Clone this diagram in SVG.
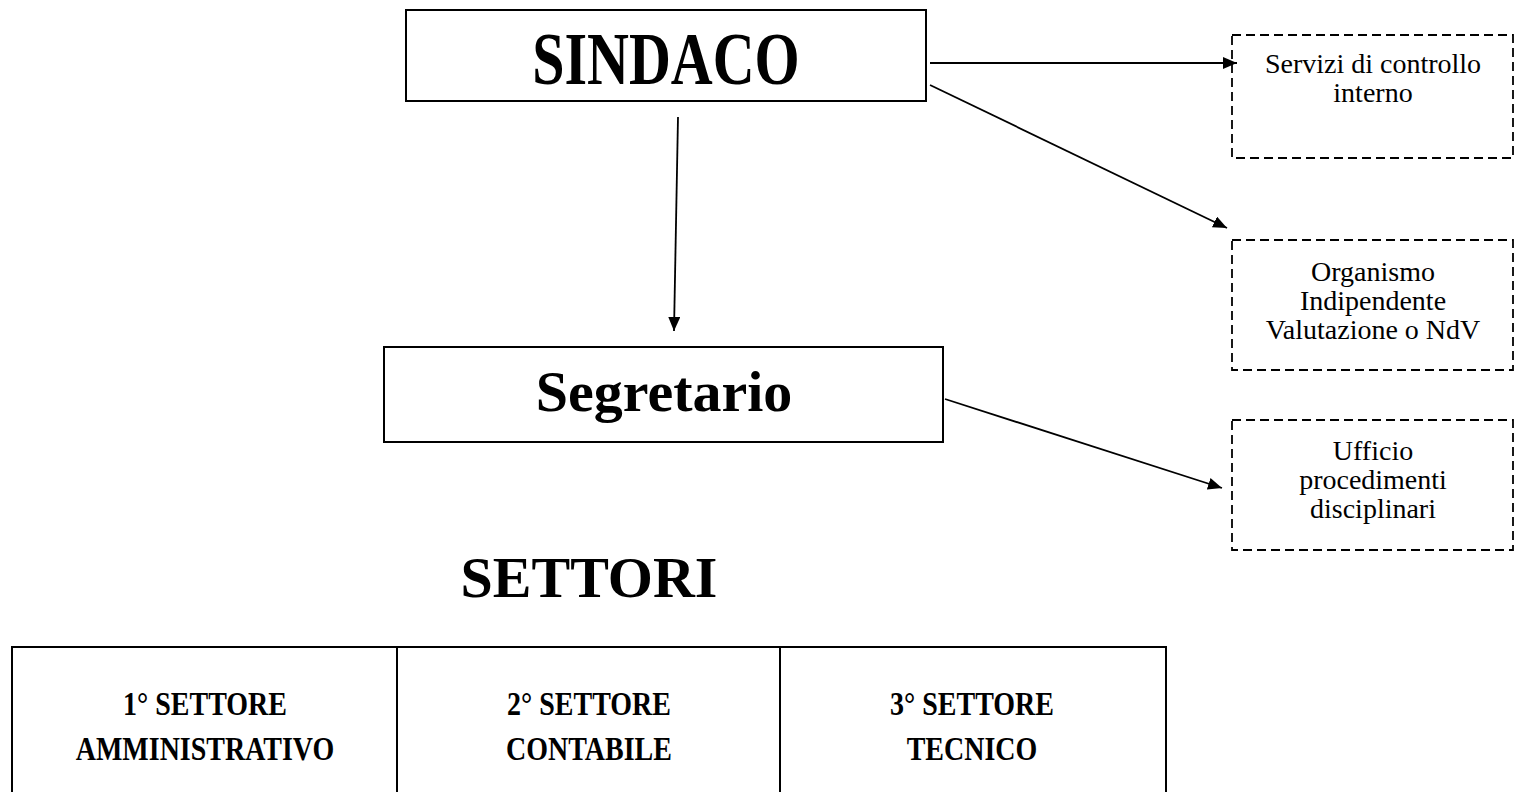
<svg xmlns="http://www.w3.org/2000/svg" width="1517" height="792" viewBox="0 0 1517 792">
<style>
.box{fill:#fff;stroke:#000;stroke-width:2}
.dash{fill:#fff;stroke:#000;stroke-width:1.8;stroke-dasharray:9 5}
.big{font-family:"Liberation Serif","Times New Roman",serif;font-weight:bold;font-size:58px;text-anchor:middle;fill:#000}
.small{font-family:"Liberation Serif","Times New Roman",serif;font-size:28px;text-anchor:middle;fill:#000}
.cell{font-family:"Liberation Serif","Times New Roman",serif;font-weight:bold;font-size:28px;text-anchor:middle;fill:#000}
.conn{stroke:#000;stroke-width:1.8;fill:none;marker-end:url(#ah)}
</style>
<defs>
<marker id="ah" viewBox="0 0 14 12" refX="14" refY="6" markerWidth="14" markerHeight="12" markerUnits="userSpaceOnUse" orient="auto">
<path d="M0,0 L14,6 L0,12 z" fill="#000"/>
</marker>
</defs>
<rect width="1517" height="792" fill="#fff"/>
<g id="sindaco">
<rect class="box" x="406" y="10" width="520" height="91"/>
<text class="big" transform="translate(666,84) scale(1,1.28)">SINDACO</text>
</g>
<g id="segretario">
<rect class="box" x="384" y="347" width="559" height="95"/>
<text class="big" x="664" y="411">Segretario</text>
</g>
<g id="servizi">
<rect class="dash" x="1232" y="35" width="281" height="123"/>
<text class="small" x="1373" y="73">Servizi di controllo</text>
<text class="small" x="1373" y="102">interno</text>
</g>
<g id="organismo">
<rect class="dash" x="1232" y="240" width="281" height="130"/>
<text class="small" x="1373" y="281">Organismo</text>
<text class="small" x="1373" y="310">Indipendente</text>
<text class="small" x="1373" y="339">Valutazione o NdV</text>
</g>
<g id="ufficio">
<rect class="dash" x="1232" y="420" width="281" height="130"/>
<text class="small" x="1373" y="460">Ufficio</text>
<text class="small" x="1373" y="489">procedimenti</text>
<text class="small" x="1373" y="518">disciplinari</text>
</g>
<g id="settori">
<text class="big" x="589" y="597">SETTORI</text>
</g>
<g id="settori-table">
<path d="M12,793 V647 H1166 V793 M397,647 V793 M780,647 V793" fill="none" stroke="#000" stroke-width="2"/>
</g>
<g id="settore1">
<text class="cell" transform="translate(205,715) scale(1,1.2)">1° SETTORE</text>
<text class="cell" transform="translate(205,760) scale(1,1.2)">AMMINISTRATIVO</text>
</g>
<g id="settore2">
<text class="cell" transform="translate(589,715) scale(1,1.2)">2° SETTORE</text>
<text class="cell" transform="translate(589,760) scale(1,1.2)">CONTABILE</text>
</g>
<g id="settore3">
<text class="cell" transform="translate(972,715) scale(1,1.2)">3° SETTORE</text>
<text class="cell" transform="translate(972,760) scale(1,1.2)">TECNICO</text>
</g>
<g id="connectors">
<line class="conn" x1="930" y1="63" x2="1237" y2="63"/>
<line class="conn" x1="930" y1="85" x2="1227" y2="228"/>
<line class="conn" x1="678" y1="117" x2="674" y2="331"/>
<line class="conn" x1="945" y1="399" x2="1222" y2="488"/>
</g>
</svg>
